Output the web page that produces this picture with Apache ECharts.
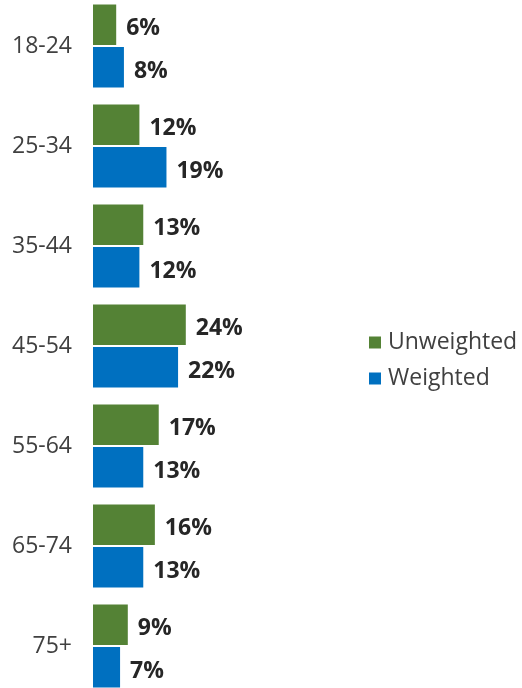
<!DOCTYPE html>
<html><head><meta charset="utf-8">
<script src="https://cdn.jsdelivr.net/npm/echarts@6/dist/echarts.min.js"></script>
<style>html,body{margin:0;padding:0;background:#fff;overflow:hidden;width:522px;height:688px;position:relative}#c{position:absolute;left:0;top:-4px;width:522px;height:700px}</style>
</head><body><div id="c"></div>
<script>
const categories = ['18-24','25-34','35-44','45-54','55-64','65-74','75+'];
const unweighted = [6,12,13,24,17,16,9];
const weighted = [8,19,12,22,13,13,7];
const seriesNames = ['Unweighted','Weighted'];
const colors = ['#548235','#0070C0'];

const chart = echarts.init(document.getElementById('c'));
const lbl = {show:true, position:'right', distance:10, offset:[0,4], formatter:'{c}%', fontFamily:'Open Sans', fontWeight:'bold', fontSize:23, color:'#262626'};
chart.setOption({
  animation:false,
  grid:{left:93, top:0, bottom:0, width:116, containLabel:false},
  xAxis:{type:'value', min:0, max:30, show:false},
  yAxis:{type:'category', data:categories, inverse:true,
    axisLine:{show:false}, axisTick:{show:false},
    axisLabel:{fontFamily:'Open Sans', fontSize:23, color:'#404040', margin:21}},
  legend:{orient:'vertical', left:364, top:330, itemWidth:12, itemHeight:12, itemGap:13,
    icon:'rect', textStyle:{fontFamily:'Open Sans', fontSize:23, color:'#404040', padding:[0,0,0,2]},
    data:seriesNames},
  series:[
    {name:seriesNames[0], type:'bar', data:unweighted, itemStyle:{color:colors[0]}, label:lbl, barGap:'5%', barCategoryGap:'17%'},
    {name:seriesNames[1], type:'bar', data:weighted, itemStyle:{color:colors[1]}, label:lbl, barGap:'5%', barCategoryGap:'17%'}
  ]
});
</script></body></html>
